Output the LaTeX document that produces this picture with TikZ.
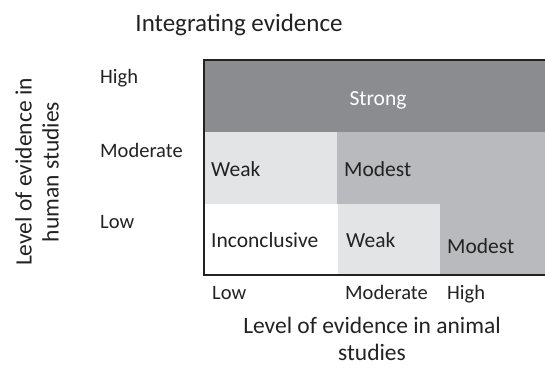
\documentclass[tikz,border=0pt]{standalone}
\usepackage{fontspec}
\setmainfont{Carlito}
\definecolor{darkc}{HTML}{8B8C8F}
\definecolor{midc}{HTML}{B9BABD}
\definecolor{lightc}{HTML}{E3E4E6}
\definecolor{txt}{HTML}{222222}
\begin{document}
\begin{tikzpicture}[x=1pt,y=-1pt,
  lbl/.style={text=txt,inner sep=0pt,font=\fontsize{20.5}{24}\selectfont,anchor=base west},
  cell/.style={text=txt,inner sep=0pt,font=\fontsize{21.5}{26}\selectfont,anchor=base west},
  axis/.style={text=txt,inner sep=0pt,font=\fontsize{23.5}{27}\selectfont,align=center}]
\useasboundingbox (0,0) rectangle (545,367);
% cells
\fill[darkc] (204,60) rectangle (545,132);
\fill[lightc] (204,132) rectangle (337,204);
\fill[midc] (337,132) rectangle (545,204);
\fill[white] (204,204) rectangle (338,275);
\fill[lightc] (338,204) rectangle (440,275);
\fill[midc] (440,204) rectangle (545,275);
\draw[line width=1.2pt,color=txt] (546,60) -- (204,60) -- (204,275) -- (546,275);
% cell texts
\node[cell,text=white,anchor=base] (strong) at (378,105) {Strong};
\node[cell] (weak1) at (211,176) {Weak};
\node[cell] (modest1) at (344,176) {Modest};
\node[cell] (inconc) at (211,247) {Inconclusive};
\node[cell] (weak2) at (346,247) {Weak};
\node[cell] (modest2) at (447,253) {Modest};
% row labels
\node[lbl] (yhigh) at (100,83) {High};
\node[lbl] (ymod) at (100,157) {Moderate};
\node[lbl] (ylow) at (100,228) {Low};
% column labels
\node[lbl] (xlow) at (212,299) {Low};
\node[lbl] (xmod) at (345,299) {Moderate};
\node[lbl] (xhigh) at (447,299) {High};
% titles
\node[axis,anchor=base,font=\fontsize{25}{30}\selectfont] (title) at (239,31) {Integrating evidence};
\node[axis,anchor=north] (xaxis) at (372,317) {Level of evidence in animal\\studies};
\node[axis,rotate=90] (yaxis) at (37,172) {Level of evidence in\\human studies};
\end{tikzpicture}
\end{document}
